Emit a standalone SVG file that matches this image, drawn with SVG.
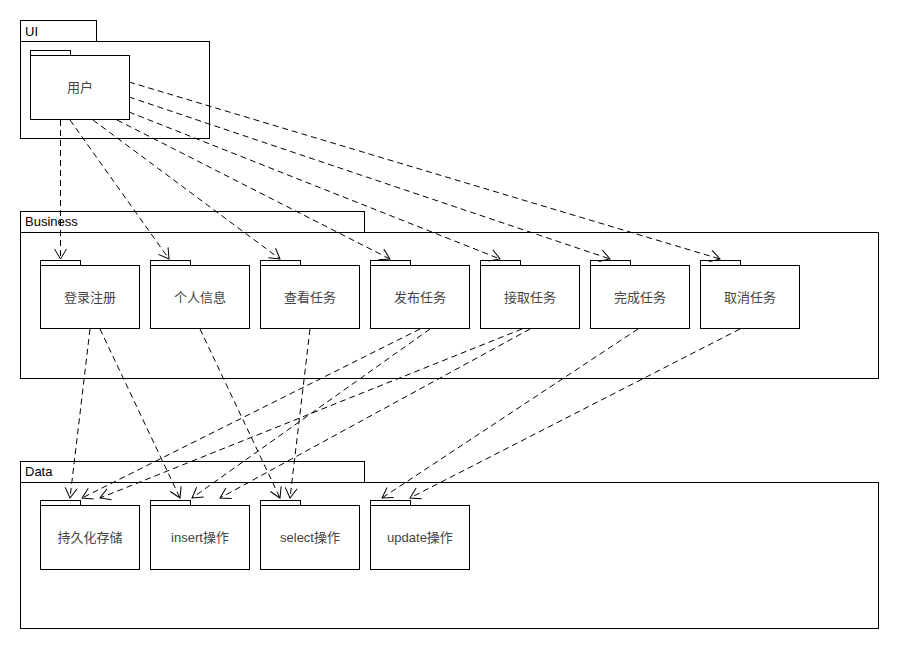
<svg xmlns="http://www.w3.org/2000/svg" width="900" height="650" viewBox="0 0 900 650">
<defs>
<marker id="arr" markerWidth="12" markerHeight="14" refX="11" refY="7" orient="auto" markerUnits="userSpaceOnUse">
<path d="M1,1 L11,7 L1,13" fill="none" stroke="#000" stroke-width="1"/>
</marker>
<style>
.box{fill:#fff;stroke:#000;stroke-width:1}
.pk{font-family:"Liberation Sans",Arial,sans-serif;font-size:13px;fill:#000}
.lbl{font-family:"Liberation Sans","Noto Sans CJK SC",sans-serif;font-size:13px;fill:#444;text-anchor:middle}
.dep{fill:none;stroke:#000;stroke-width:1;stroke-dasharray:6,4;marker-end:url(#arr)}
</style>
</defs>
<rect width="900" height="650" fill="#fff"/>
<g id="pkg-ui">
<rect class="box" x="20.5" y="20.5" width="76" height="21"/>
<rect class="box" x="20.5" y="41.5" width="189" height="97"/>
<text class="pk" x="25" y="36">UI</text>
</g>
<g id="node-user">
<rect class="box" x="30.5" y="50.5" width="40" height="5"/>
<rect class="box" x="30.5" y="55.5" width="99" height="64"/>
<text class="lbl" x="80" y="92">用户</text>
</g>
<g id="pkg-business">
<rect class="box" x="20.5" y="211.5" width="344" height="21"/>
<rect class="box" x="20.5" y="232.5" width="858" height="146"/>
<text class="pk" x="25" y="226">Business</text>
</g>
<g id="node-login"><rect class="box" x="40.5" y="260.5" width="40" height="5"/><rect class="box" x="40.5" y="265.5" width="99" height="63"/><text class="lbl" x="90" y="302">登录注册</text></g>
<g id="node-profile"><rect class="box" x="150.5" y="260.5" width="40" height="5"/><rect class="box" x="150.5" y="265.5" width="99" height="63"/><text class="lbl" x="200" y="302">个人信息</text></g>
<g id="node-view"><rect class="box" x="260.5" y="260.5" width="40" height="5"/><rect class="box" x="260.5" y="265.5" width="99" height="63"/><text class="lbl" x="310" y="302">查看任务</text></g>
<g id="node-publish"><rect class="box" x="370.5" y="260.5" width="40" height="5"/><rect class="box" x="370.5" y="265.5" width="99" height="63"/><text class="lbl" x="420" y="302">发布任务</text></g>
<g id="node-accept"><rect class="box" x="480.5" y="260.5" width="40" height="5"/><rect class="box" x="480.5" y="265.5" width="99" height="63"/><text class="lbl" x="530" y="302">接取任务</text></g>
<g id="node-complete"><rect class="box" x="590.5" y="260.5" width="40" height="5"/><rect class="box" x="590.5" y="265.5" width="99" height="63"/><text class="lbl" x="640" y="302">完成任务</text></g>
<g id="node-cancel"><rect class="box" x="700.5" y="260.5" width="40" height="5"/><rect class="box" x="700.5" y="265.5" width="99" height="63"/><text class="lbl" x="750" y="302">取消任务</text></g>
<g id="pkg-data">
<rect class="box" x="20.5" y="461.5" width="344" height="21"/>
<rect class="box" x="20.5" y="482.5" width="858" height="146"/>
<text class="pk" x="25" y="476">Data</text>
</g>
<g id="node-persist"><rect class="box" x="40.5" y="500.5" width="40" height="5"/><rect class="box" x="40.5" y="505.5" width="99" height="64"/><text class="lbl" x="90" y="542">持久化存储</text></g>
<g id="node-insert"><rect class="box" x="150.5" y="500.5" width="40" height="5"/><rect class="box" x="150.5" y="505.5" width="99" height="64"/><text class="lbl" x="200" y="542">insert操作</text></g>
<g id="node-select"><rect class="box" x="260.5" y="500.5" width="40" height="5"/><rect class="box" x="260.5" y="505.5" width="99" height="64"/><text class="lbl" x="310" y="542">select操作</text></g>
<g id="node-update"><rect class="box" x="370.5" y="500.5" width="40" height="5"/><rect class="box" x="370.5" y="505.5" width="99" height="64"/><text class="lbl" x="420" y="542">update操作</text></g>
<g id="connectors">
<path class="dep" d="M60.5,120 L60.5,259"/>
<path class="dep" d="M70,120 L169,259"/>
<path class="dep" d="M93,120 L280,259"/>
<path class="dep" d="M117,120 L390,259"/>
<path class="dep" d="M129,112 L500,259"/>
<path class="dep" d="M129,97 L610,259"/>
<path class="dep" d="M129,82 L720,259"/>
<path class="dep" d="M90,329 L70,498"/>
<path class="dep" d="M100,329 L180,498"/>
<path class="dep" d="M200,329 L280,498"/>
<path class="dep" d="M310,329 L290,498"/>
<path class="dep" d="M420,329 L82,498"/>
<path class="dep" d="M430,329 L192,498"/>
<path class="dep" d="M522,329 L100,498"/>
<path class="dep" d="M530,329 L220,498"/>
<path class="dep" d="M638,329 L382,498"/>
<path class="dep" d="M740,329 L410,498"/>
</g>
</svg>
